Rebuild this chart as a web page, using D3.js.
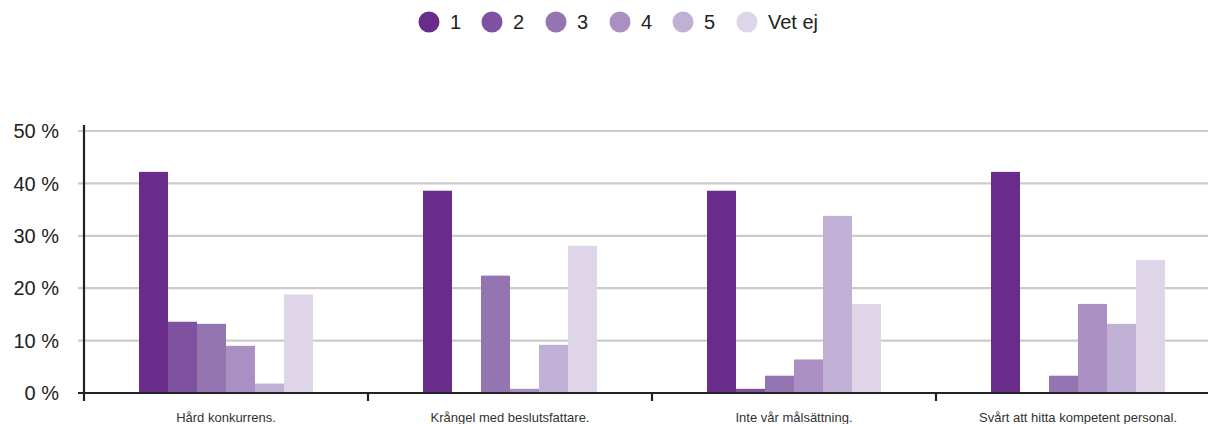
<!DOCTYPE html>
<html><head><meta charset="utf-8">
<script src="https://cdn.jsdelivr.net/npm/d3@7/dist/d3.min.js"></script>
<style>
html,body{margin:0;padding:0;background:#fff;overflow:hidden;}
svg{display:block;font-family:"Liberation Sans",Arial,Helvetica,sans-serif;}
</style></head>
<body><svg id="c" width="1208" height="424"></svg>
<script>
const categories = ["Hård konkurrens.", "Krångel med beslutsfattare.", "Inte vår målsättning.", "Svårt att hitta kompetent personal."];
const seriesNames = ["1", "2", "3", "4", "5", "Vet ej"];
const s1 = [42.2, 38.6, 38.6, 42.2];
const s2 = [13.6, 0, 0.8, 0];
const s3 = [13.2, 22.4, 3.3, 3.3];
const s4 = [9.0, 0.8, 6.4, 17.0];
const s5 = [1.8, 9.2, 33.8, 13.2];
const s6 = [18.8, 28.1, 17.0, 25.4];
const yTicks = [0, 10, 20, 30, 40, 50];
const colors = ["#6a2c8b", "#7e52a0", "#9575b1", "#a98fc2", "#c1b0d5", "#ded5e8"];

const seriesValues = [s1, s2, s3, s4, s5, s6];
const svg = d3.select("#c");
const left = 84, bandW = 284, baseY = 393, topY = 131;

const x0 = d3.scaleBand().domain(categories).range([left, left + bandW * categories.length]).padding(0);
const x1 = d3.scaleBand().domain(seriesNames).range([0, x0.bandwidth()]).paddingInner(0).paddingOuter(1.897);
const y = d3.scaleLinear().domain([0, 50]).range([baseY, topY]);

// gridlines
svg.append("g").selectAll("line").data(yTicks.filter(d => d > 0)).join("line")
  .attr("x1", 78).attr("x2", 1208)
  .attr("y1", d => y(d)).attr("y2", d => y(d))
  .attr("stroke", "#cccccc").attr("stroke-width", 2.2);

// y labels
svg.append("g").selectAll("text").data(yTicks).join("text")
  .attr("x", 59).attr("y", d => y(d)).attr("dy", "0.36em")
  .attr("text-anchor", "end").attr("font-size", 20).attr("fill", "#222")
  .text(d => d + " %");

// bars
const g = svg.append("g");
categories.forEach((c, ci) => {
  g.append("g").attr("transform", `translate(${x0(c)},0)`)
    .selectAll("rect").data(seriesNames.map((s, si) => ({s, v: seriesValues[si][ci], color: colors[si]})))
    .join("rect")
    .attr("x", d => x1(d.s)).attr("width", x1.bandwidth())
    .attr("y", d => y(d.v)).attr("height", d => baseY - y(d.v))
    .attr("fill", d => d.color);
});

// x axis line
svg.append("line").attr("x1", 78).attr("x2", 1208).attr("y1", baseY).attr("y2", baseY)
  .attr("stroke", "#222").attr("stroke-width", 2.2);
// y axis line
svg.append("line").attr("x1", left).attr("x2", left).attr("y1", 125).attr("y2", 401)
  .attr("stroke", "#222").attr("stroke-width", 2.2);
// category boundary ticks
svg.append("g").selectAll("line").data(categories.slice(1)).join("line")
  .attr("x1", d => x0(d)).attr("x2", d => x0(d)).attr("y1", baseY).attr("y2", 401)
  .attr("stroke", "#222").attr("stroke-width", 2.2);
// category labels
svg.append("g").selectAll("text").data(categories).join("text")
  .attr("x", d => x0(d) + x0.bandwidth() / 2).attr("y", 422)
  .attr("text-anchor", "middle").attr("font-size", 13).attr("fill", "#333")
  .text(d => d);

// legend
const legX = [429, 492, 556, 620, 683, 747];
const leg = svg.append("g").selectAll("g").data(seriesNames).join("g")
  .attr("transform", (d, i) => `translate(${legX[i]},22)`);
leg.append("circle").attr("r", 10.5).attr("fill", (d, i) => colors[i]);
leg.append("text").attr("x", 21).attr("dy", "0.36em").attr("font-size", 20).attr("fill", "#222").text(d => d);
</script></body></html>
